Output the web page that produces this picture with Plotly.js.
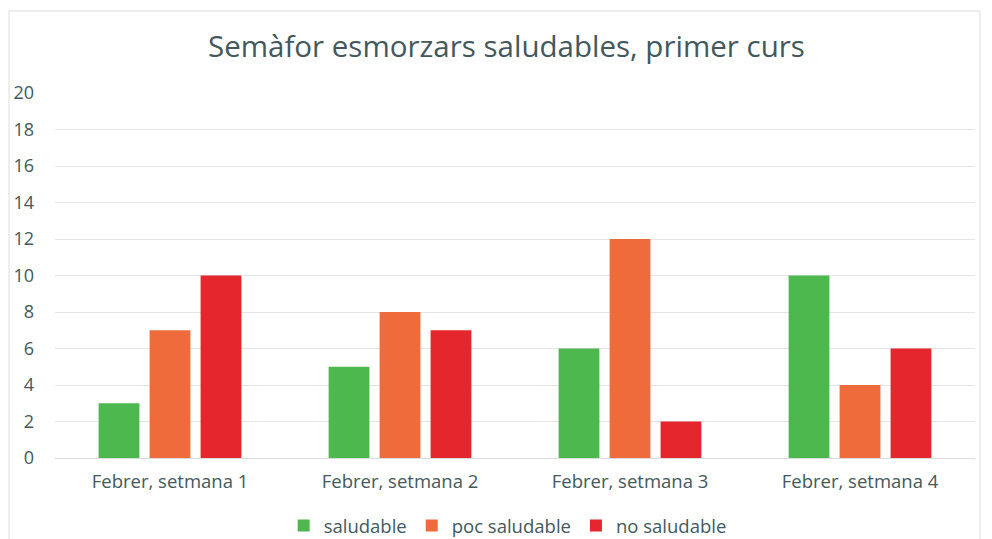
<!DOCTYPE html>
<html>
<head>
<meta charset="utf-8">
<script src="https://cdn.plot.ly/plotly-3.0.1.min.js"></script>
<style>html,body{margin:0;padding:0;background:#fff;}#chart{width:992px;height:539px;}</style>
</head>
<body>
<div id="chart"></div>
<script>
const categories = ["Febrer, setmana 1", "Febrer, setmana 2", "Febrer, setmana 3", "Febrer, setmana 4"];
const saludable = [3, 5, 6, 10];
const pocSaludable = [7, 8, 12, 4];
const noSaludable = [10, 7, 2, 6];
const seriesNames = ["saludable", "poc saludable", "no saludable"];
const yTicks = [0, 2, 4, 6, 8, 10, 12, 14, 16, 18, 20];

const colors = ["#4cb84e", "#f06b3c", "#e5272d"];
const textColor = "#43585c";
const font = "Open Sans, sans-serif";

const data = [saludable, pocSaludable, noSaludable].map((vals, i) => ({
  type: "bar",
  name: seriesNames[i],
  x: categories,
  y: vals,
  marker: {color: colors[i]},
  hoverinfo: "x+y+name"
}));

const layout = {
  width: 992, height: 539,
  margin: {l: 55, r: 17, t: 93, b: 81, autoexpand: false},
  paper_bgcolor: "#ffffff",
  plot_bgcolor: "#ffffff",
  barmode: "group",
  bargap: 0.335,
  bargroupgap: 0.2,
  font: {family: font, color: textColor, size: 17},
  title: {
    text: "Semàfor esmorzars saludables, primer curs",
    font: {family: font, size: 29.5, color: textColor},
    x: 0.5105, xanchor: "center",
    y: 0.913, yanchor: "middle"
  },
  xaxis: {
    type: "category",
    tickfont: {size: 18.5, color: textColor},
    showgrid: false,
    showline: false,
    zeroline: false,
    ticks: "",
    ticklen: 0,
    ticklabelstandoff: 10,
    automargin: false
  },
  yaxis: {
    range: [0, 20],
    tickvals: yTicks,
    tickfont: {size: 18, color: textColor},
    gridcolor: "#e3e5e6",
    gridwidth: 1,
    zeroline: true,
    zerolinecolor: "#d9dcdd",
    showline: false,
    ticks: "",
    ticklabelstandoff: 20,
    automargin: false
  },
  legend: {
    orientation: "h",
    x: 0.492, xanchor: "center",
    y: -0.186, yanchor: "middle",
    bgcolor: "rgba(0,0,0,0)",
    font: {size: 18.5, color: textColor},
    itemwidth: 30,
    tracegroupgap: 0,
    traceorder: "normal"
  },
  shapes: [{
    type: "rect", xref: "paper", yref: "paper",
    x0: -0.05, x1: 1.0054, y0: -0.23, y1: 1.2247,
    line: {color: "#dcdcdc", width: 1},
    fillcolor: "rgba(0,0,0,0)",
    layer: "below"
  }]
};

Plotly.newPlot("chart", data, layout, {displayModeBar: false, staticPlot: true});
</script>
</body>
</html>
